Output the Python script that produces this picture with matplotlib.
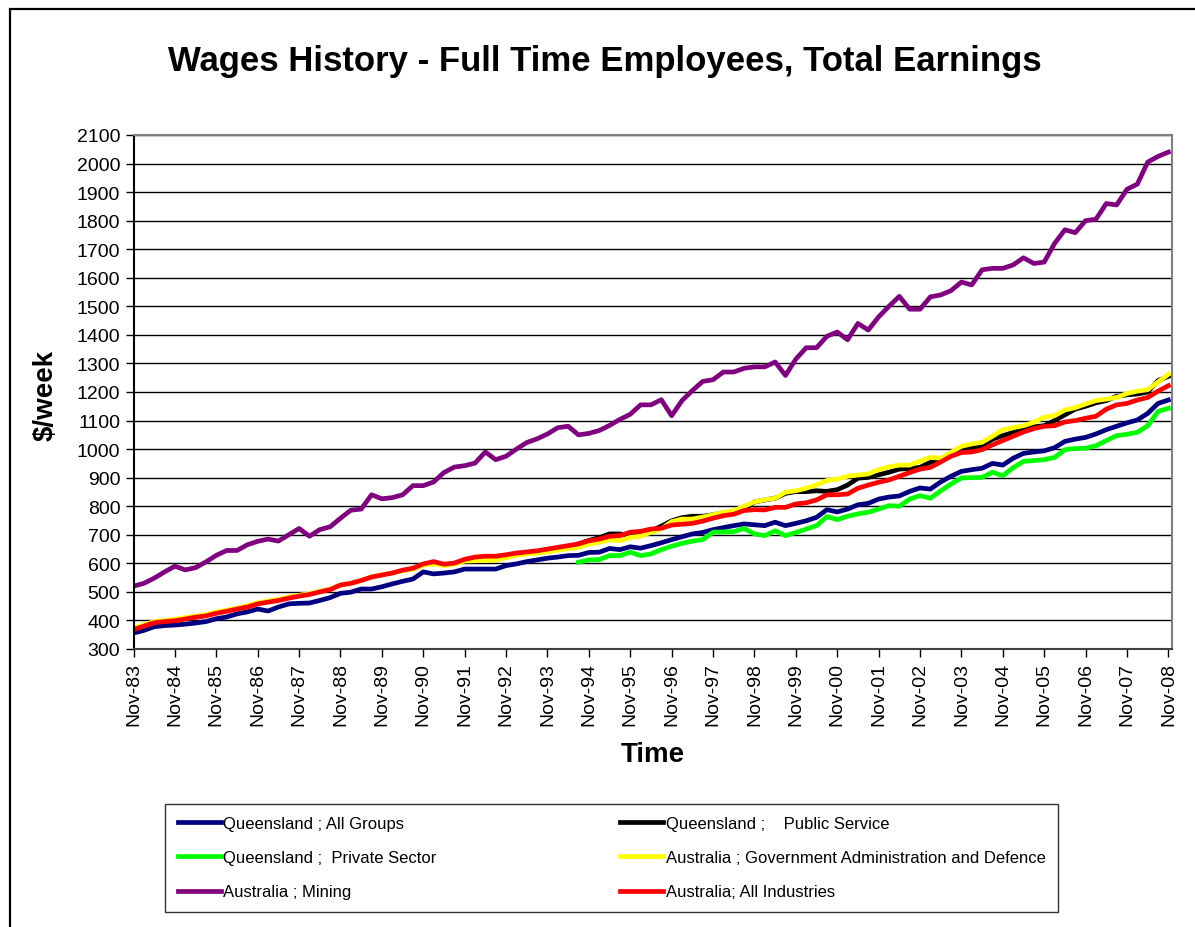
import numpy as np
import matplotlib
matplotlib.use("Agg")
import matplotlib.pyplot as plt
from matplotlib.patches import Rectangle

plt.rcParams['font.family'] = ['Liberation Sans', 'DejaVu Sans']

# quarterly observations Nov-83 .. Nov-08 ($/week)
years = [f"Nov-{y % 100:02d}" for y in range(1983, 2009)]

qld_all_groups = [
    356, 365, 378, 382, 384, 387, 391, 396, 406, 412, 423, 430, 440, 433, 447, 458, 460, 461, 470, 480,
    495, 499, 510, 510, 518, 528, 537, 545, 570, 563, 566, 570, 580, 580, 580, 580, 592, 598, 606, 612,
    618, 622, 627, 628, 638, 639, 652, 648, 658, 653, 662, 672, 683, 693, 703, 708, 718, 725, 732, 738,
    735, 732, 744, 732, 740, 749, 761, 788, 780, 790, 805, 810, 825, 832, 836, 852, 864, 860, 885, 905,
    922, 928, 933, 950, 944, 968, 985, 990, 994, 1005, 1027, 1035, 1041, 1053, 1068, 1080, 1092, 1102, 1125, 1160,
    1172]

qld_public = [None] * 43 + [
    668, 680, 690, 703, 703, 697, 703, 714, 730, 749, 760, 765, 765, 770, 777, 779, 790,
    815, 822, 828, 845, 851, 851, 854, 852, 858, 874, 898, 901, 910, 919, 930, 932, 936, 954, 963, 982,
    1000, 1005, 1012, 1035, 1047, 1058, 1070, 1078, 1082, 1100, 1120, 1140, 1150, 1162, 1170, 1185, 1190, 1193, 1200, 1240,
    1255]

qld_private = [None] * 43 + [
    604, 612, 613, 627, 627, 639, 627, 633, 648, 660, 670, 678, 683, 709, 710, 711, 722,
    703, 697, 714, 697, 708, 720, 732, 764, 753, 765, 773, 779, 790, 802, 800, 825, 837, 828, 854, 878,
    899, 900, 901, 919, 907, 935, 957, 960, 963, 971, 998, 1002, 1003, 1012, 1030, 1047, 1052, 1059, 1082, 1132,
    1143]

aus_gov_admin = [
    374, 385, 396, 400, 404, 410, 415, 421, 430, 436, 444, 452, 462, 468, 474, 482, 488, 494, 502, 510,
    524, 530, 540, 553, 560, 566, 574, 580, 594, 598, 592, 597, 608, 609, 610, 612, 620, 628, 633, 636,
    640, 646, 652, 656, 668, 674, 683, 679, 691, 695, 709, 720, 746, 755, 755, 762, 770, 779, 784, 800,
    815, 823, 828, 849, 854, 863, 875, 890, 895, 905, 909, 913, 928, 938, 944, 944, 958, 971, 968, 989,
    1010, 1018, 1024, 1045, 1068, 1075, 1082, 1094, 1112, 1117, 1137, 1145, 1158, 1170, 1175, 1181, 1195, 1203, 1208, 1235,
    1262]

aus_mining = [
    520, 530, 548, 570, 590, 577, 585, 605, 628, 645, 645, 665, 677, 685, 678, 700, 722, 695, 718, 728,
    758, 786, 790, 840, 826, 830, 840, 872, 872, 885, 918, 937, 942, 951, 990, 963, 975, 1000, 1023, 1036,
    1053, 1075, 1080, 1050, 1055, 1065, 1083, 1104, 1122, 1155, 1155, 1173, 1117, 1170, 1205, 1237, 1243, 1270, 1270, 1283,
    1288, 1288, 1305, 1258, 1315, 1355, 1355, 1395, 1410, 1383, 1440, 1417, 1463, 1500, 1535, 1490, 1490, 1533, 1540, 1555,
    1585, 1575, 1628, 1633, 1633, 1645, 1670, 1650, 1655, 1720, 1768, 1758, 1800, 1805, 1860, 1855, 1910, 1928, 2005, 2025,
    2040]

aus_all_ind = [
    368, 380, 392, 396, 399, 405, 411, 416, 425, 432, 440, 447, 458, 464, 470, 478, 485, 491, 500, 508,
    524, 530, 540, 552, 559, 566, 576, 583, 598, 606, 597, 601, 614, 622, 625, 625, 630, 636, 640, 644,
    650, 656, 662, 668, 679, 685, 695, 697, 709, 712, 720, 723, 734, 737, 740, 748, 758, 767, 772, 785,
    788, 787, 796, 796, 808, 812, 822, 840, 840, 843, 863, 874, 884, 892, 905, 918, 930, 936, 955, 975,
    988, 990, 998, 1015, 1030, 1045, 1060, 1072, 1080, 1082, 1095, 1100, 1108, 1115, 1140, 1155, 1160, 1172, 1181, 1203,
    1222]

series = [
    ("Queensland ; All Groups", qld_all_groups, "#000080"),
    ("Queensland ;    Public Service", qld_public, "#000000"),
    ("Queensland ;  Private Sector", qld_private, "#00FF00"),
    ("Australia ; Government Administration and Defence", aus_gov_admin, "#FFFF00"),
    ("Australia ; Mining", aus_mining, "#800080"),
    ("Australia; All Industries", aus_all_ind, "#FF0000"),
]

fig = plt.figure(figsize=(11.95, 9.28), dpi=100)
ax = fig.add_axes([133.5 / 1195, 1 - 650 / 928, (1172 - 133.5) / 1195, (650 - 136) / 928])

# outer chart frame (extends past the image edge)
fig.patches.append(Rectangle((10 / 1195, -0.1), 1.2, 1.1 - 10 / 928, transform=fig.transFigure,
                             fill=False, edgecolor="black", linewidth=1.6))

x = np.arange(len(qld_all_groups))
handles = {}
for name, vals, col in series:
    y = np.array([np.nan if v is None else v for v in vals], dtype=float)
    ln, = ax.plot(x, y, color=col, linewidth=3.4, label=name)
    handles[name] = ln

ax.set_xlim(0, 100.35)
ax.set_ylim(300, 2100)
ax.set_yticks(np.arange(300, 2101, 100))
ax.set_xticks(np.arange(0, 101, 4))
ax.set_xticklabels(years, rotation=90)
ax.tick_params(axis="both", labelsize=14, direction="out", length=6, width=1, color="black")
ax.yaxis.grid(True, color="black", linewidth=1)
ax.set_axisbelow(True)
for s in ("top", "right"):
    ax.spines[s].set_color("#808080")
    ax.spines[s].set_linewidth(1.5)
ax.spines["left"].set_linewidth(1.5)
ax.spines["bottom"].set_color("#404040")
ax.spines["bottom"].set_linewidth(1.5)

fig.text(605 / 1195, 1 - 61 / 928, "Wages History - Full Time Employees, Total Earnings",
         fontsize=25, fontweight="bold", ha="center", va="center")
fig.text(46 / 1195, 1 - 395 / 928, "$/week", fontsize=20, fontweight="bold",
         rotation=90, ha="center", va="center")
fig.text(653 / 1195, 1 - 755 / 928, "Time", fontsize=20, fontweight="bold", ha="center", va="center")

# legend: row-major in the picture, matplotlib fills column-wise
order = [0, 2, 4, 1, 3, 5]
leg_h = [handles[series[i][0]] for i in order]
leg_l = [series[i][0] for i in order]
leg = fig.legend(leg_h, leg_l, ncol=2, mode="expand",
                 bbox_to_anchor=(165 / 1195, 1 - 913 / 928, (1058 - 165) / 1195, 100 / 928),
                 loc="lower left", fontsize=12, frameon=True, fancybox=False,
                 edgecolor="black", handlelength=2.6, handletextpad=0.15,
                 labelspacing=1.15, borderpad=0.75, borderaxespad=0)
leg.get_frame().set_linewidth(1)

fig.savefig("out.png", dpi=100)
